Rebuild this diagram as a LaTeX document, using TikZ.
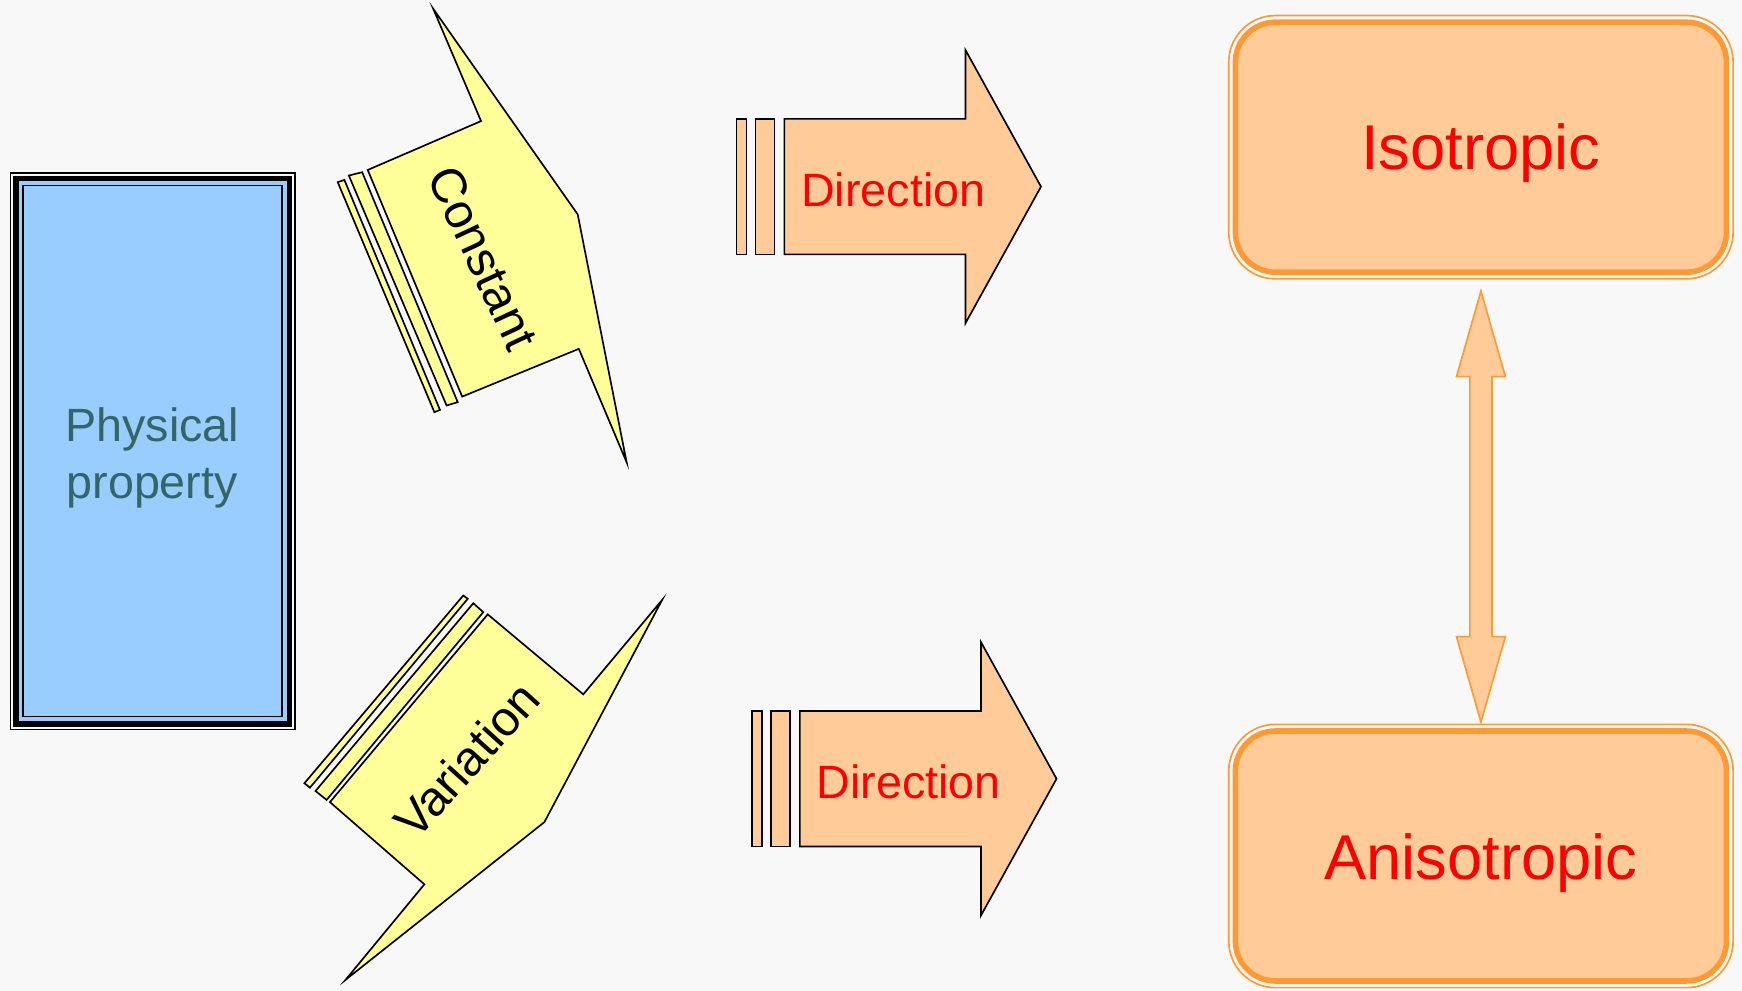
\documentclass[tikz,border=0pt]{standalone}
\usepackage{fontspec}
\setmainfont{Liberation Sans}
\definecolor{bg}{HTML}{F8F8F8}
\definecolor{pblue}{HTML}{99CCFF}
\definecolor{pteal}{HTML}{336666}
\definecolor{yel}{HTML}{FFFF99}
\definecolor{peach}{HTML}{FFCC99}
\definecolor{orng}{HTML}{FF9933}
\begin{document}
\begin{tikzpicture}[x=0.5pt,y=-0.5pt,
  yshape/.style={draw=black,fill=yel,line width=0.75pt,line join=miter},
  pshape/.style={draw=black,fill=peach,line width=0.75pt,line join=miter},
  dirtext/.style={text=red,font=\fontsize{21}{25}\selectfont,anchor=base,inner sep=0pt},
  bigtext/.style={text=red,font=\fontsize{28.5}{34}\selectfont,anchor=base,inner sep=0pt},
  rottext/.style={text=black,font=\fontsize{22}{26}\selectfont,inner sep=0pt},
  outerline/.style={draw=orng,line width=0.75pt,rounded corners=21pt},
  thickbox/.style={draw=orng,fill=peach,line width=2.5pt,rounded corners=18pt}]
\fill[bg] (0,0) rectangle (1568,892);
\useasboundingbox (0,0) rectangle (1568,892);

% Physical property box
\fill[pblue] (14.5,160.5) rectangle (260.5,651.5);
\draw[line width=0.75pt] (9.5,155.5) rectangle (265.5,656.5);
\draw[line width=2.5pt] (14.5,160.5) rectangle (260.5,651.5);
\draw[line width=0.75pt] (21,167) rectangle (254,645);
\node[text=pteal,font=\fontsize{21}{26}\selectfont,align=center,inner sep=0pt,anchor=base] (phys) at (137,449) {Physical\\property};

% Constant arrow
\draw[yshape] (331,153) -- (433,109) -- (390,8) -- (520,193) -- (564,416) -- (521,314) -- (416,357) -- cycle;
\draw[yshape] (304,164) -- (310,162) -- (396,369) -- (391,371) -- cycle;
\draw[yshape] (314,158) -- (326,155) -- (412,362) -- (402,365) -- cycle;
\node[rottext,rotate=-65] (const) at (435,232) {Constant};

% Variation arrow
\draw[yshape] (297,722) -- (439,553) -- (525,625) -- (596,540) -- (490,740) -- (311,882) -- (382,796) -- cycle;
\draw[yshape] (274,705) -- (417,536) -- (421,539) -- (279,709) -- cycle;
\draw[yshape] (284,712) -- (426,543) -- (435,551) -- (294,720) -- cycle;
\node[rottext,rotate=48] (var) at (420,684) {Variation};

% Direction arrows
\foreach \dx/\dy/\nm in {0/0/dirA,14/533/dirB}{
  \begin{scope}[shift={(\dx,\dy)}]
    \draw[pshape] (663,107) rectangle (672,229);
    \draw[pshape] (680,107) rectangle (697,229);
    \draw[pshape] (706,107) -- (869,107) -- (869,45) -- (937,168) -- (869,291) -- (869,229) -- (706,229) -- cycle;
    \node[dirtext] (\nm) at (804,186) {Direction};
  \end{scope}
}

% Isotropic box
\draw[outerline] (1106,14) rectangle (1560,251);
\draw[thickbox] (1112,20) rectangle (1554,245);
\node[bigtext] (iso) at (1333,153) {Isotropic};

% Anisotropic box
\draw[outerline] (1106,652) rectangle (1560,889);
\draw[thickbox] (1112,658) rectangle (1554,883);
\node[bigtext] (aniso) at (1333,792) {Anisotropic};

% Double arrow
\draw[draw=orng,fill=peach,line width=0.75pt] (1333,262) -- (1355,339) -- (1343,339) -- (1343,573) -- (1355,573) -- (1333,650) -- (1311,573) -- (1323,573) -- (1323,339) -- (1311,339) -- cycle;
\end{tikzpicture}
\end{document}
